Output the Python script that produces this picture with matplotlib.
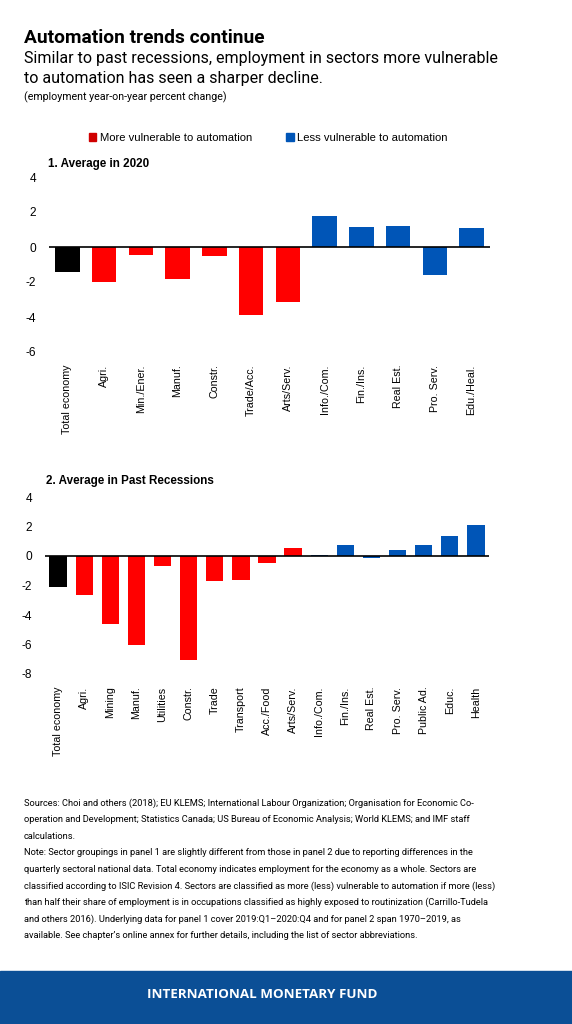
import matplotlib
matplotlib.use("Agg")
from matplotlib import pyplot as plt
from matplotlib.patches import Patch, Rectangle

W, H = 572, 1024
plt.rcParams["axes.unicode_minus"] = False

# panel 1: average in 2020
cats_2020 = ["Total economy", "Agri.", "Min./Ener.", "Manuf.", "Constr.", "Trade/Acc.",
             "Arts/Serv.", "Info./Com.", "Fin./Ins.", "Real Est.", "Pro. Serv.", "Edu./Heal."]
vals_2020 = [-1.45, -1.98, -0.44, -1.85, -0.51, -3.9, -3.16, 1.79, 1.14, 1.22, -1.58, 1.1]
group_2020 = ["total"] + ["more"] * 6 + ["less"] * 5

# panel 2: average in past recessions
cats_past = ["Total economy", "Agri.", "Mining", "Manuf.", "Utilities", "Constr.", "Trade",
             "Transport", "Acc./Food", "Arts/Serv.", "Info./Com.", "Fin./Ins.", "Real Est.",
             "Pro. Serv.", "Public Ad.", "Educ.", "Health"]
vals_past = [-2.12, -2.64, -4.64, -6.04, -0.68, -7.03, -1.71, -1.64, -0.45, 0.56, 0.1,
             0.72, -0.16, 0.4, 0.72, 1.37, 2.12]
group_past = ["total"] + ["more"] * 9 + ["less"] * 7

colors = {"total": "#000000", "more": "#ff0000", "less": "#0055b7"}

chart_font = ["Liberation Sans", "DejaVu Sans"]
head_font = ["Roboto", "DejaVu Sans"]

note_lines = [
    "Sources: Choi and others (2018); EU KLEMS; International Labour Organization; Organisation for Economic Co-",
    "operation and Development; Statistics Canada; US Bureau of Economic Analysis; World KLEMS; and IMF staff",
    "calculations.",
    "Note: Sector groupings in panel 1 are slightly different from those in panel 2 due to reporting differences in the",
    "quarterly sectoral national data. Total economy indicates employment for the economy as a whole. Sectors are",
    "classified according to ISIC Revision 4. Sectors are classified as more (less) vulnerable to automation if more (less)",
    "than half their share of employment is in occupations classified as highly exposed to routinization (Carrillo-Tudela",
    "and others 2016). Underlying data for panel 1 cover 2019:Q1\u20132020:Q4 and for panel 2 span 1970\u20132019, as",
    "available. See chapter\u2019s online annex for further details, including the list of sector abbreviations.",
]


def px_axes(fig, left, top, right, bottom):
    """Add axes given pixel box (origin top-left)."""
    return fig.add_axes([left / W, 1 - bottom / H, (right - left) / W, (bottom - top) / H])


def draw_panel(ax, cats, vals, groups, ylim):
    x = range(len(cats))
    ax.bar(x, vals, width=0.66, color=[colors[g] for g in groups], zorder=2)
    ax.axhline(0, color="black", lw=1.2, zorder=3)
    ax.set_xlim(-0.5, len(cats) - 0.5)
    ax.set_ylim(*ylim)
    ax.set_yticks(range(ylim[0], ylim[1] + 1, 2))
    ax.set_xticks(list(x))
    ax.set_xticklabels(cats, rotation=90, family=chart_font, fontsize=7.7)
    ax.tick_params(axis="both", length=0)
    ax.tick_params(axis="x", pad=9)
    ax.tick_params(axis="y", pad=9, labelsize=8.6)
    for lab in ax.get_yticklabels():
        lab.set_family(chart_font)
    for s in ax.spines.values():
        s.set_visible(False)
    ax.patch.set_alpha(0)


fig = plt.figure(figsize=(W / 100, H / 100), dpi=100)

# header
fig.text(24 / W, 1 - 38 / H, "Automation trends continue", family=head_font,
         fontweight="bold", fontsize=13.8, va="center")
fig.text(24 / W, 1 - 58 / H, "Similar to past recessions, employment in sectors more vulnerable",
         family=head_font, fontsize=11.5, va="center")
fig.text(24 / W, 1 - 79 / H, "to automation has seen a sharper decline.",
         family=head_font, fontsize=11.5, va="center")
fig.text(24 / W, 1 - 97 / H, "(employment year-on-year percent change)",
         family=head_font, fontsize=7.7, va="center")

# legend
handles = [Patch(color="#d00000", label="More vulnerable to automation"),
           Patch(color="#0055b7", label="Less vulnerable to automation")]
fig.legend(handles=handles, loc="center", bbox_to_anchor=(268 / W, 1 - 138 / H), ncol=2,
           frameon=False, prop={"family": chart_font, "size": 8.1},
           handlelength=0.7, handleheight=0.7, handletextpad=0.3, columnspacing=3.0)

ax1 = px_axes(fig, 49, 177, 490, 352)
draw_panel(ax1, cats_2020, vals_2020, group_2020, (-6, 4))
fig.text(48 / W, 1 - 164 / H, "1. Average in 2020", family=chart_font,
         fontweight="bold", fontsize=8.4, va="center")

ax2 = px_axes(fig, 45, 497, 489, 674)
draw_panel(ax2, cats_past, vals_past, group_past, (-8, 4))
fig.text(46 / W, 1 - 481 / H, "2. Average in Past Recessions", family=chart_font,
         fontweight="bold", fontsize=8.4, va="center")

# notes
for i, line in enumerate(note_lines):
    fig.text(24 / W, 1 - (803 + i * 16.6) / H, line, family=head_font, fontsize=6.7, va="center")

# footer band
fig.patches.append(Rectangle((0, 0), 1, 53 / H, transform=fig.transFigure,
                             color="#0b4f96", zorder=0))
fig.text(262 / W, 1 - 994 / H, "INTERNATIONAL MONETARY FUND", family=["Open Sans", "DejaVu Sans"],
         fontweight="bold", fontsize=9.6, color="white", ha="center", va="center")

fig.savefig("out.png", dpi=100)
